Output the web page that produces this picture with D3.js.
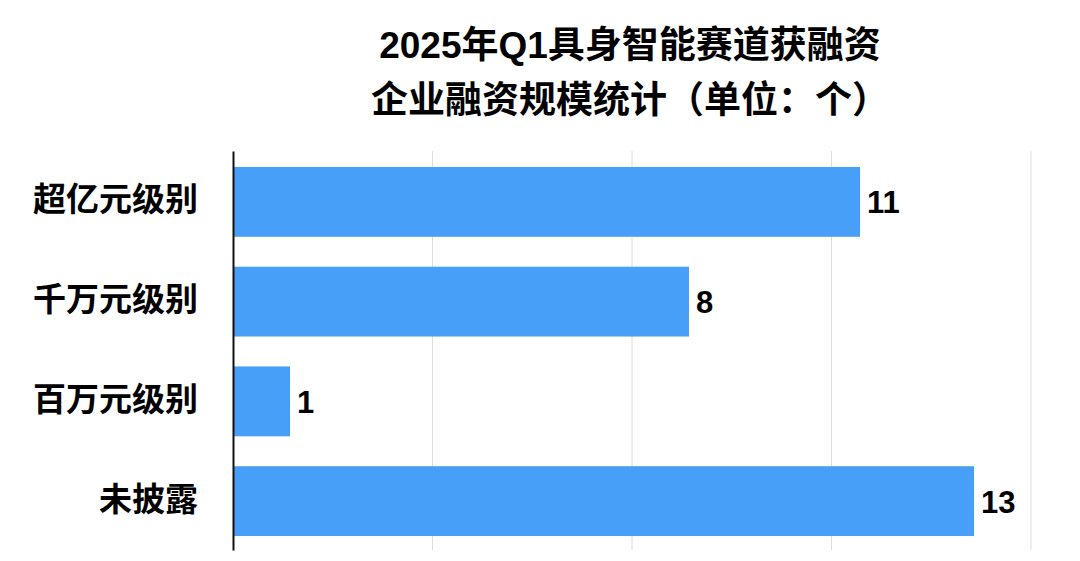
<!DOCTYPE html>
<html><head><meta charset="utf-8">
<script src="https://cdn.jsdelivr.net/npm/d3@7"></script>
<style>
html,body{margin:0;padding:0;background:#fff;}
text{font-family:"Liberation Sans","Noto Sans CJK SC",sans-serif;font-weight:bold;fill:#000;}
</style></head>
<body><svg id="c" width="1080" height="561"></svg>
<script>
const titleLines = ["2025年Q1具身智能赛道获融资", "企业融资规模统计（单位：个）"];
const categories = ["超亿元级别", "千万元级别", "百万元级别", "未披露"];
const values = [11, 8, 1, 13];
const gridTicks = [3.5, 7, 10.5, 14];

const svg = d3.select("#c");
const m = {left: 233, right: 1031, top: 151, bottom: 550};

const x = d3.scaleLinear().domain([0, 14]).range([m.left, m.right]);
const y = d3.scaleBand().domain(categories).range([m.top, m.bottom]).paddingInner(0.3).paddingOuter(0.15);

// gridlines
svg.append("g").selectAll("line").data(gridTicks).join("line")
  .attr("x1", d => x(d)).attr("x2", d => x(d))
  .attr("y1", m.top).attr("y2", m.bottom)
  .attr("stroke", "#dcdcdc").attr("stroke-width", 1);

// bars
svg.append("g").selectAll("rect").data(values).join("rect")
  .attr("x", x(0)).attr("y", (d, i) => y(categories[i]) + 1)
  .attr("width", d => x(d) - x(0)).attr("height", y.bandwidth())
  .attr("fill", "#479ff8");

// value labels
svg.append("g").selectAll("text").data(values).join("text")
  .attr("x", d => x(d) + 7).attr("y", (d, i) => y(categories[i]) + y.bandwidth() / 2 + 2)
  .attr("dominant-baseline", "central")
  .style("font-size", "31px")
  .text(d => d);

// category axis
const yAxis = d3.axisLeft(y).tickSize(0).tickPadding(35);
const ga = svg.append("g").attr("transform", `translate(${m.left},0)`).call(yAxis);
ga.select(".domain").attr("stroke", "#111").attr("stroke-width", 2);
ga.selectAll(".tick text").style("font-size", "33px").style("font-family", "'Noto Sans CJK SC',sans-serif").attr("fill", "#000");

// title
svg.append("g").selectAll("text").data(titleLines).join("text")
  .attr("x", 630).attr("y", (d, i) => 45 + i * 55)
  .attr("text-anchor", "middle").attr("dominant-baseline", "central")
  .style("font-size", "37px")
  .text(d => d);
</script></body></html>
